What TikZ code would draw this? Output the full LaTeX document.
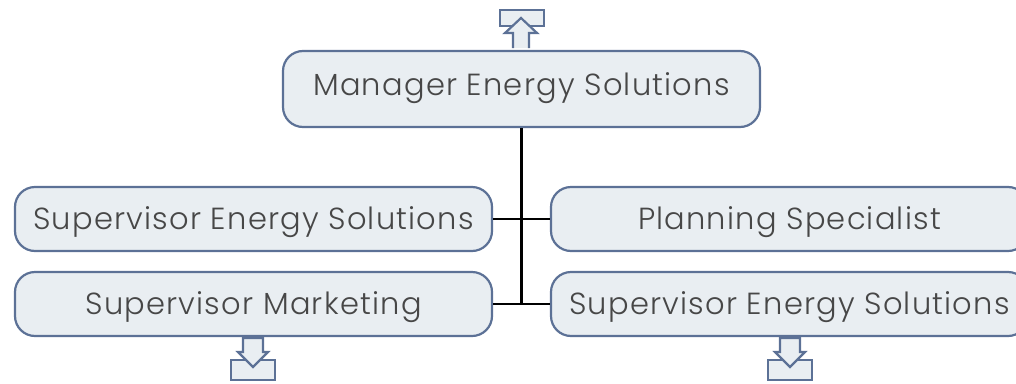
\documentclass[tikz,border=0pt]{standalone}
\usepackage{fontspec}
\setmainfont{Poppins}[UprightFont=* Light, LetterSpace=4]
\usepackage{xcolor}
\usetikzlibrary{positioning}
\definecolor{boxline}{HTML}{5C7196}
\definecolor{boxfill}{HTML}{E9EEF2}
\definecolor{boxtext}{HTML}{474747}
\newcommand{\shifttext}[2]{\raisebox{#1}[\height][\depth]{#2}}

\begin{document}
\begin{tikzpicture}[x=1pt, y=-1pt,
		orgbox/.style={draw=boxline, fill=boxfill, line width=2.2pt, rounded corners=20pt, text=boxtext, font=\fontsize{30.5}{33}\selectfont, inner sep=0pt, minimum width=477pt, minimum height=64pt},
		link/.style={black, line width=2.2pt},
		icon/.style={draw=boxline, fill=boxfill, line width=2.2pt, line join=miter}]
		\useasboundingbox (0,0) rectangle (1016,383);

		% Boxes
		\node[orgbox, minimum height=76pt] (manager) at (521.5,89) {\shifttext{1pt}{Manager Energy Solutions}};
		\node[orgbox] (supenergy) at (253.5,219) {\shifttext{-3pt}{Supervisor Energy Solutions}};
		\node[orgbox] (planning) at (789.5,219) {\shifttext{-3pt}{Planning Specialist}};
		\node[orgbox] (supmarket) at (253.5,304) {\shifttext{-3pt}{Supervisor Marketing}};
		\node[orgbox] (supenergytwo) at (789.5,304) {\shifttext{-3pt}{Supervisor Energy Solutions}};

		% Connectors
		\coordinate (trunk) at (manager.south |- supmarket.east);
		\draw[link] (manager.south) -- (trunk);
		\draw[link] (supenergy.east) -- (planning.west);
		\draw[link] (supmarket.east) -- (supenergytwo.west);

		% Up icon
		\draw[icon] (500,10) rectangle (544,26);
		\draw[icon] (513,48) -- (513,33) -- (505,33) -- (521,18) -- (537,33) -- (529,33) -- (529,48);

		% Down icons
		\foreach \cx in {253,790} {
			\draw[icon] (\cx-22,360) rectangle (\cx+22,380);
			\draw[icon] (\cx-10,338) -- (\cx-10,352) -- (\cx-15,352) -- (\cx,367) -- (\cx+15,352) -- (\cx+10,352) -- (\cx+10,338) -- cycle;
		}
	\end{tikzpicture}
\end{document}
